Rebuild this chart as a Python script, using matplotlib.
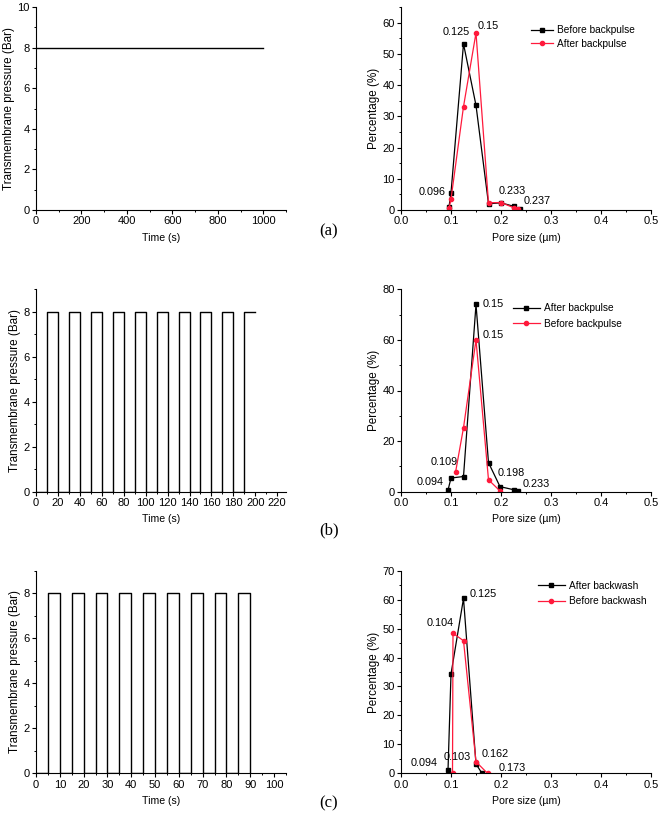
import matplotlib
matplotlib.use('Agg')
import matplotlib.pyplot as plt
from matplotlib.ticker import MultipleLocator

plt.rcParams['font.family'] = ['Liberation Sans', 'DejaVu Sans']

# ---------------- data ----------------
# (a) constant transmembrane pressure
time_a = [0, 1000]
tmp_a = [8, 8]

# (b) pulsed operation (start / end of each pressure pulse, s)
pulse_on_b = [10, 30, 50, 70, 90, 110, 130, 150, 170, 190]
pulse_off_b = [20, 40, 60, 80, 100, 120, 140, 160, 180, 200]
final_drop_b = False

# (c) pulsed operation
pulse_on_c = [5, 15, 25, 35, 45, 55, 65, 75, 85]
pulse_off_c = [10, 20, 30, 40, 50, 60, 70, 80, 90]
final_drop_c = True
pulse_level = 8

# pore size distributions
pore_a_before_x = [0.096, 0.100, 0.125, 0.150, 0.175, 0.200, 0.225, 0.237]
pore_a_before_y = [1.0, 5.5, 53.2, 33.5, 2.0, 2.3, 1.2, 0.2]
pore_a_after_x = [0.096, 0.100, 0.125, 0.150, 0.175, 0.200, 0.225, 0.233]
pore_a_after_y = [0.5, 3.5, 33.1, 56.7, 2.3, 2.4, 0.75, 0.2]

pore_b_after_x = [0.094, 0.100, 0.125, 0.150, 0.175, 0.198, 0.225, 0.233]
pore_b_after_y = [0.6, 5.4, 6.0, 74.0, 11.5, 2.0, 0.8, 0.4]
pore_b_before_x = [0.109, 0.125, 0.150, 0.175, 0.198]
pore_b_before_y = [7.6, 25.3, 60.0, 4.7, 0.3]

pore_c_after_x = [0.094, 0.100, 0.125, 0.150, 0.162]
pore_c_after_y = [1.0, 34.3, 60.4, 3.2, 0.0]
pore_c_before_x = [0.103, 0.104, 0.125, 0.150, 0.173]
pore_c_before_y = [0.0, 48.4, 45.8, 4.0, 0.0]

ann_a = [("0.125", 0.110, 56.9, 'center'), ("0.15", 0.174, 59.0, 'center'),
         ("0.096", 0.063, 5.8, 'center'), ("0.233", 0.223, 6.2, 'center'),
         ("0.237", 0.272, 2.9, 'center')]
ann_b = [("0.15", 0.163, 74.1, 'left'), ("0.15", 0.163, 61.8, 'left'),
         ("0.109", 0.086, 11.7, 'center'), ("0.094", 0.059, 3.7, 'center'),
         ("0.198", 0.193, 7.3, 'left'), ("0.233", 0.243, 3.0, 'left')]
ann_c = [("0.125", 0.137, 61.9, 'left'), ("0.104", 0.078, 52.0, 'center'),
         ("0.094", 0.046, 3.7, 'center'), ("0.103", 0.112, 5.6, 'center'),
         ("0.162", 0.161, 6.5, 'left'), ("0.173", 0.195, 1.7, 'left')]

RED = '#ff1a3c'
FS_TICK = 8.0
FS_XLAB = 7.6
FS_YLAB = 8.4
FS_ANN = 7.8
FS_LEG = 7.3

W, H = 663, 818
fig = plt.figure(figsize=(W / 100, H / 100), dpi=100)


def px_axes(x0, top, x1, bottom):
    return fig.add_axes([x0 / W, 1 - bottom / H, (x1 - x0) / W, (bottom - top) / H])


def style(ax, xmaj, xmin, ymaj, ymin):
    for s in ['top', 'right']:
        ax.spines[s].set_visible(False)
    for s in ['left', 'bottom']:
        ax.spines[s].set_linewidth(0.8)
    ax.xaxis.set_major_locator(MultipleLocator(xmaj))
    ax.xaxis.set_minor_locator(MultipleLocator(xmin))
    ax.yaxis.set_major_locator(MultipleLocator(ymaj))
    ax.yaxis.set_minor_locator(MultipleLocator(ymin))
    ax.tick_params(which='major', direction='out', length=2.6, width=0.8,
                   labelsize=FS_TICK, pad=2)
    ax.tick_params(which='minor', direction='out', length=1.6, width=0.7)


def steps(on, off, final_drop):
    t, p = [0], [0]
    for i, (a, b) in enumerate(zip(on, off)):
        t += [a, a, b]
        p += [0, pulse_level, pulse_level]
        if i < len(on) - 1 or final_drop:
            t.append(b)
            p.append(0)
    return t, p


def left_panel(ax, t, p, xlim, ylim, xmaj, xmin, ymaj, ymin):
    ax.plot(t, p, color='black', lw=1.0)
    ax.set_xlim(*xlim)
    ax.set_ylim(*ylim)
    style(ax, xmaj, xmin, ymaj, ymin)
    ax.set_xlabel('Time (s)', fontsize=FS_XLAB, labelpad=4.5)
    ax.set_ylabel('Transmembrane pressure (Bar)', fontsize=FS_YLAB, labelpad=1.5)


def right_panel(ax, s1, s2, ylim, ymaj, ymin, anns, leg_anchor, hl, ls):
    (x1, y1, l1), (x2, y2, l2) = s1, s2
    ax.plot(x1, y1, color='black', lw=0.9, marker='s', ms=3, label=l1)
    ax.plot(x2, y2, color=RED, lw=0.9, marker='o', ms=3, label=l2)
    ax.set_xlim(0, 0.5)
    ax.set_ylim(*ylim)
    style(ax, 0.1, 0.05, ymaj, ymin)
    ax.set_xlabel('Pore size (\u00b5m)', fontsize=FS_XLAB, labelpad=4.5)
    ax.set_ylabel('Percentage (%)', fontsize=FS_YLAB, labelpad=1.5)
    for txt, x, y, ha in anns:
        ax.text(x, y, txt, ha=ha, va='center', fontsize=FS_ANN)
    ax.legend(loc='upper left', bbox_to_anchor=leg_anchor, frameon=False,
              fontsize=FS_LEG, handlelength=hl, handletextpad=0.4,
              borderpad=0, borderaxespad=0, labelspacing=ls, markerscale=1)


# (a)
ax = px_axes(36, 7, 286, 210)
left_panel(ax, time_a, tmp_a, (0, 1100), (0, 10), 200, 100, 2, 1)
ax = px_axes(401, 7, 651, 210)
right_panel(ax, (pore_a_before_x, pore_a_before_y, 'Before backpulse'),
            (pore_a_after_x, pore_a_after_y, 'After backpulse'),
            (0, 65), 10, 5, ann_a, (0.52, 0.91), 2.2, 0.35)

# (b)
tb, pb = steps(pulse_on_b, pulse_off_b, final_drop_b)
ax = px_axes(36, 289, 286, 491.7)
left_panel(ax, tb, pb, (0, 228), (0, 9), 20, 10, 2, 1)
ax = px_axes(401, 289.3, 651, 491.7)
right_panel(ax, (pore_b_after_x, pore_b_after_y, 'After backpulse'),
            (pore_b_before_x, pore_b_before_y, 'Before backpulse'),
            (0, 80), 20, 10, ann_b, (0.447, 0.93), 2.7, 0.55)

# (c)
tc, pc = steps(pulse_on_c, pulse_off_c, final_drop_c)
ax = px_axes(36, 570.7, 286, 773.3)
left_panel(ax, tc, pc, (0, 105), (0, 9), 10, 5, 2, 1)
ax = px_axes(401, 570.7, 651, 773.3)
right_panel(ax, (pore_c_after_x, pore_c_after_y, 'After backwash'),
            (pore_c_before_x, pore_c_before_y, 'Before backwash'),
            (0, 70), 10, 5, ann_c, (0.547, 0.95), 2.7, 0.55)

# panel letters
for lab, yp in [('(a)', 231), ('(b)', 530), ('(c)', 803)]:
    fig.text(329 / W, 1 - yp / H, lab, ha='center', va='center',
             fontsize=12, family=['Liberation Serif', 'DejaVu Serif'])

fig.savefig('out.png', dpi=100)
